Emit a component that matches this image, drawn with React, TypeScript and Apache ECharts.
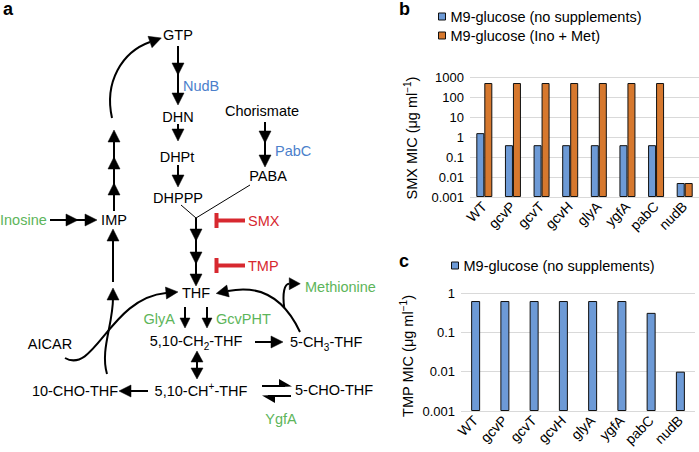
import React, { useEffect, useRef } from 'react';
import * as echarts from 'echarts';

const strains = ['WT', 'gcvP', 'gcvT', 'gcvH', 'glyA', 'ygfA', 'pabC', 'nudB'];
const smxNoSupplements = [1.56, 0.39, 0.39, 0.39, 0.39, 0.39, 0.39, 0.005];
const smxInoMet = [500, 500, 500, 500, 500, 500, 500, 0.005];
const tmpNoSupplements = [0.625, 0.625, 0.625, 0.625, 0.625, 0.625, 0.3125, 0.01];
const seriesNames = ['M9-glucose (no supplements)', 'M9-glucose (Ino + Met)'];

const FAM = "'Liberation Sans', Arial, Helvetica, sans-serif";
const BLUE_BAR = '#6d9ad6';
const ORANGE_BAR = '#d6782e';
const BLUE_TXT = '#4c7fcb';
const GREEN_TXT = '#5db55a';
const RED = '#d7282f';
const GRID = '#d9d9d9';

function T(x: number, y: number, text: string, color = '#000', align = 'center', size = 14.5, extra: any = {}) {
  return {
    type: 'text', x, y, silent: true,
    style: {
      text, fontSize: size, fontFamily: FAM, fill: color,
      align, verticalAlign: 'middle', textAlign: align, textVerticalAlign: 'middle', ...extra,
    },
  };
}
function RT(x: number, y: number, text: string, align = 'center', kind: 'sub' | 'sup' = 'sub', size = 14.5) {
  return {
    type: 'text', x, y, silent: true,
    style: {
      text, fontSize: size, fontFamily: FAM, fill: '#000', lineHeight: 20,
      align, verticalAlign: 'middle', textAlign: align, textVerticalAlign: 'middle',
      rich: {
        s: { fontSize: 10, fontFamily: FAM, fill: '#000', lineHeight: 10, verticalAlign: kind === 'sub' ? 'bottom' : 'top' },
      },
    },
  };
}
function head(tx: number, ty: number, dx: number, dy: number, L = 12, W = 6, color = '#000') {
  const n = Math.hypot(dx, dy);
  const ux = dx / n, uy = dy / n;
  const bx = tx - ux * L, by = ty - uy * L;
  return {
    type: 'polygon', silent: true,
    shape: { points: [[tx, ty], [bx - uy * W, by + ux * W], [bx + uy * W, by - ux * W]] },
    style: { fill: color, stroke: color, lineWidth: 0.5 },
  };
}
function seg(x1: number, y1: number, x2: number, y2: number, w = 2, color = '#000') {
  return { type: 'line', silent: true, shape: { x1, y1, x2, y2 }, style: { stroke: color, lineWidth: w } };
}
function curve(p0: number[], p1: number[], p2: number[], p3: number[], w = 2) {
  return {
    type: 'bezierCurve', silent: true,
    shape: { x1: p0[0], y1: p0[1], cpx1: p1[0], cpy1: p1[1], cpx2: p2[0], cpy2: p2[1], x2: p3[0], y2: p3[1] },
    style: { stroke: '#000', lineWidth: w, fill: 'none' },
  };
}
function curveArrow(p0: number[], p1: number[], p2: number[], p3: number[], L = 12, W = 6) {
  const dx = p3[0] - p2[0], dy = p3[1] - p2[1];
  const n = Math.hypot(dx, dy);
  return [curve(p0, p1, p2, p3), head(p3[0] + (dx / n) * L, p3[1] + (dy / n) * L, dx, dy, L, W)];
}
function bezierAt(p0: number[], p1: number[], p2: number[], p3: number[], t: number) {
  const u = 1 - t;
  const a = u * u * u, b = 3 * u * u * t, c = 3 * u * t * t, d = t * t * t;
  return [a * p0[0] + b * p1[0] + c * p2[0] + d * p3[0], a * p0[1] + b * p1[1] + c * p2[1] + d * p3[1]];
}

function pathwayElements() {
  const els: any[] = [];
  // panel labels
  els.push(T(3, 9, 'a', '#000', 'left', 18, { fontWeight: 'bold' }));
  els.push(T(399, 9, 'b', '#000', 'left', 18, { fontWeight: 'bold' }));
  els.push(T(399, 261, 'c', '#000', 'left', 18, { fontWeight: 'bold' }));

  // metabolites
  els.push(T(178, 35, 'GTP'));
  els.push(T(178, 117, 'DHN'));
  els.push(T(177, 157, 'DHPt'));
  els.push(T(178, 198, 'DHPPP'));
  els.push(T(262, 111, 'Chorismate'));
  els.push(T(268, 176, 'PABA'));
  els.push(T(114, 220, 'IMP'));
  els.push(T(196, 293, 'THF'));
  els.push(T(50, 344, 'AICAR'));
  els.push(RT(196, 341, '5,10-CH{s|2}-THF', 'center', 'sub'));
  els.push(RT(290, 342, '5-CH{s|3}-THF', 'left', 'sub'));
  els.push(T(75, 391, '10-CHO-THF'));
  els.push(RT(201, 391, '5,10-CH{s|+}-THF', 'center', 'sup'));
  els.push(T(295, 390, '5-CHO-THF', '#000', 'left'));

  // enzymes / supplements / drugs
  els.push(T(183, 86, 'NudB', BLUE_TXT, 'left'));
  els.push(T(275, 151, 'PabC', BLUE_TXT, 'left'));
  els.push(T(0, 220, 'Inosine', GREEN_TXT, 'left'));
  els.push(T(175, 319, 'GlyA', GREEN_TXT, 'right'));
  els.push(T(216, 319, 'GcvPHT', GREEN_TXT, 'left'));
  els.push(T(305, 287, 'Methionine', GREEN_TXT, 'left'));
  els.push(T(281, 419, 'YgfA', GREEN_TXT, 'center'));
  els.push(T(248, 221, 'SMX', RED, 'left'));
  els.push(T(248, 266, 'TMP', RED, 'left'));

  // GTP -> DHN -> DHPt -> DHPPP
  els.push(seg(178, 46, 178, 96), head(178, 75, 0, 1), head(178, 105, 0, 1));
  els.push(seg(178, 124, 178, 134), head(178, 141, 0, 1));
  els.push(seg(178, 165, 178, 180), head(178, 187, 0, 1));
  // Chorismate -> PABA
  els.push(seg(265, 122, 265, 160), head(265, 143, 0, 1), head(265, 167, 0, 1));
  // junction
  els.push(seg(181, 205, 196, 218, 1), seg(250, 185, 196, 218, 1));
  // to THF
  els.push(seg(196, 218, 196, 280), head(196, 241, 0, 1), head(196, 264, 0, 1), head(196, 286, 0, 1));
  // inhibitors
  els.push(seg(216.5, 213, 216.5, 228, 4, RED), seg(216, 220.5, 245, 220.5, 4, RED));
  els.push(seg(216.5, 258, 216.5, 273, 4, RED), seg(216, 265.5, 245, 265.5, 4, RED));
  // IMP upward column and curve to GTP
  els.push(seg(114, 140, 114, 211), head(114, 130, 0, -1), head(114, 157, 0, -1), head(114, 183, 0, -1));
  els.push(...curveArrow([112, 118], [104, 82], [122, 52], [150, 42]));
  // Inosine -> IMP
  els.push(seg(50, 220, 88, 220), head(78, 220, 1, 0), head(97, 220, 1, 0));
  // 10-CHO-THF -> IMP
  els.push(seg(113, 236, 113, 282), head(113, 229, 0, -1), head(113, 288, 0, -1));
  els.push(curve([107, 374], [100, 350], [113, 325], [113, 298]));
  // AICAR -> THF
  els.push(...curveArrow([65, 358], [95, 375], [110, 298], [166, 293]));
  // THF -> 5,10-CH2-THF
  els.push(seg(185, 307, 185, 320), head(185, 328, 0, 1, 10, 5));
  els.push(seg(207, 307, 207, 320), head(207, 328, 0, 1, 10, 5));
  // -> 5-CH3-THF
  els.push(seg(255, 342, 272, 342), head(283, 342, 1, 0));
  // 5-CH3-THF -> THF, with Methionine branch leaving the curve
  const c0 = [300, 332], c1 = [285, 300], c2 = [262, 284], c3 = [228, 291];
  els.push(...curveArrow(c0, c1, c2, c3));
  const b0 = bezierAt(c0, c1, c2, c3, 0.3);
  els.push(...curveArrow(b0, [b0[0] - 2, b0[1] - 14], [b0[0] + 0, b0[1] - 24], [b0[0] + 5, b0[1] - 24], 11, 6));
  // 5,10-CH2 <-> 5,10-CH+
  els.push(seg(197, 360, 197, 370), head(197, 351, 0, -1, 11, 6), head(197, 379, 0, 1, 11, 6));
  // -> 10-CHO-THF
  els.push(seg(130, 391, 148, 391), head(119, 391, -1, 0));
  // equilibrium with 5-CHO-THF
  els.push(seg(262, 386, 285, 386));
  els.push({ type: 'polygon', silent: true, shape: { points: [[292, 386.5], [279, 379], [279, 387]] }, style: { fill: '#000' } });
  els.push(seg(268, 396, 291, 396));
  els.push({ type: 'polygon', silent: true, shape: { points: [[262, 395.5], [275, 395], [275, 403]] }, style: { fill: '#000' } });

  // y-axis titles of b and c
  const yTitle = (x: number, y: number, drug: string) => ({
    type: 'text', x, y, rotation: Math.PI / 2, silent: true,
    style: {
      text: drug + ' MIC (μg ml{s|−1})', fontSize: 14.5, fontFamily: FAM, fill: '#000', lineHeight: 20,
      align: 'center', verticalAlign: 'middle', textAlign: 'center', textVerticalAlign: 'middle',
      rich: { s: { fontSize: 10, fontFamily: FAM, fill: '#000', lineHeight: 10, verticalAlign: 'top' } },
    },
  });
  els.push(yTitle(412, 138, 'SMX'));
  els.push(yTitle(408, 356, 'TMP'));
  return els;
}

const logLabel = (v: number) => {
  const r = Math.round(Math.log10(v));
  return r >= 0 ? String(Math.pow(10, r)) : Math.pow(10, r).toFixed(-r);
};

function yAxisFor(gridIndex: number, max: number) {
  return {
    type: 'log', logBase: 10, gridIndex, min: 0.001, max, startValue: 0.001,
    axisLine: { show: false }, axisTick: { show: false },
    splitLine: { show: true, lineStyle: { color: GRID, width: 1 } },
    axisLabel: { fontSize: 13, fontFamily: FAM, color: '#000', margin: 6, formatter: logLabel },
  };
}
function xAxisFor(gridIndex: number) {
  return {
    type: 'category', gridIndex, data: strains,
    axisLine: { show: false }, axisTick: { show: false },
    axisLabel: { rotate: 45, interval: 0, fontSize: 14, fontFamily: FAM, color: '#000', margin: 7 },
  };
}

const legendBase = {
  orient: 'vertical', icon: 'rect', itemWidth: 7, itemHeight: 7, itemGap: 4, padding: 0,
  selectedMode: false,
  textStyle: { fontSize: 14.5, fontFamily: FAM, color: '#000' },
  itemStyle: { borderColor: '#111', borderWidth: 1 },
};

export default function App() {
  const ref = useRef<HTMLDivElement>(null);
  useEffect(() => {
    document.body.style.margin = '0';
    const chart = echarts.init(ref.current!, null, { renderer: 'svg' });
    chart.setOption({
      animation: false,
      backgroundColor: '#fff',
      grid: [
        { left: 470, top: 77, width: 229, height: 120 },
        { left: 461, top: 293, width: 234, height: 118 },
      ],
      legend: [
        { ...legendBase, left: 438, top: 9, data: seriesNames },
        { ...legendBase, left: 451, top: 258, data: [seriesNames[0]] },
      ],
      xAxis: [xAxisFor(0), xAxisFor(1)],
      yAxis: [yAxisFor(0, 1000), yAxisFor(1, 1)],
      series: [
        {
          type: 'bar', name: seriesNames[0], xAxisIndex: 0, yAxisIndex: 0, data: smxNoSupplements,
          barWidth: 8, barGap: '0%',
          itemStyle: { color: BLUE_BAR, borderColor: '#111', borderWidth: 1 },
        },
        {
          type: 'bar', name: seriesNames[1], xAxisIndex: 0, yAxisIndex: 0, data: smxInoMet,
          barWidth: 8, barGap: '0%',
          itemStyle: { color: ORANGE_BAR, borderColor: '#111', borderWidth: 1 },
        },
        {
          type: 'bar', name: seriesNames[0], xAxisIndex: 1, yAxisIndex: 1, data: tmpNoSupplements,
          barWidth: 9,
          itemStyle: { color: BLUE_BAR, borderColor: '#111', borderWidth: 1 },
        },
      ],
      graphic: pathwayElements(),
    });
    return () => chart.dispose();
  }, []);
  return <div ref={ref} style={{ width: 699, height: 452 }} />;
}
